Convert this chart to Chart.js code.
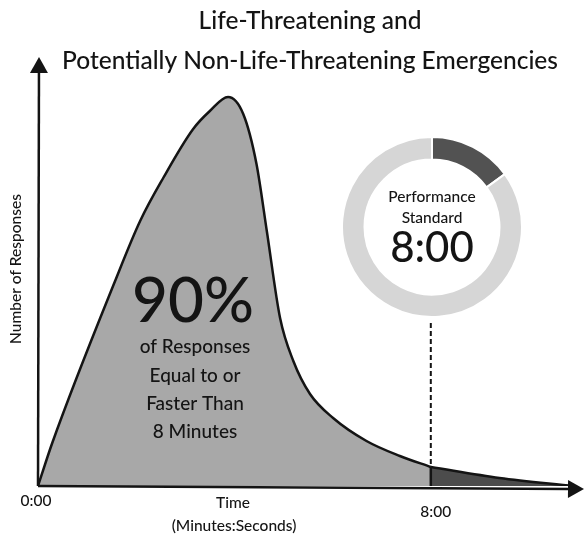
<!DOCTYPE html>
<html>
<head>
<meta charset="utf-8">
<title>Emergency response times</title>
<script src="https://cdn.jsdelivr.net/npm/chart.js@4.4.1/dist/chart.umd.min.js"></script>
<style>
  html, body { margin: 0; padding: 0; background: #fff; }
  #wrap { position: relative; width: 584px; height: 537px; }
  #main { position: absolute; left: 0; top: 0; }
  #ring { position: absolute; left: 341px; top: 136px; }
</style>
</head>
<body>
<div id="wrap">
  <canvas id="main" width="584" height="537"></canvas>
  <canvas id="ring" width="182" height="182"></canvas>
</div>
<script>
// text
const titleLines = ["Life-Threatening and", "Potentially Non-Life-Threatening Emergencies"];
const yAxisLabel = "Number of Responses";
const xAxisLabel = ["Time", "(Minutes:Seconds)"];
const xTickValues = [0, 8];
const xTickLabels = ["0:00", "8:00"];
const calloutLines = ["90%", "of Responses", "Equal to or", "Faster Than", "8 Minutes"];
const ringText = ["Performance", "Standard", "8:00"];

// response time distribution (minutes, relative number of responses)
const standardMinutes = 8;
const timeMin = [0, 0.29, 1.57, 2.08, 2.55, 3.16, 3.50, 3.87, 4.18, 4.45, 4.66, 4.93, 5.20, 5.54, 6.01, 6.69, 7.37, 8.0];
const responses = [0, 43, 205, 265, 308, 357, 375, 389, 372, 322, 255, 168, 125, 92, 68, 45, 30, 19];
const tailTime = [8.0, 9.4, 10.9];
const tailResponses = [19, 8, 0];

// performance standard ring
const ringLabels = ["Slower than 8:00", "Within 8:00"];
const ringShares = [15, 85];

const FONT = "Lato, 'Open Sans', sans-serif";
const INK = "#141414";

function arrowLine(ctx, x1, y1, x2, y2, head, half) {
  const a = Math.atan2(y2 - y1, x2 - x1);
  const bx = x2 - Math.cos(a) * head, by = y2 - Math.sin(a) * head;
  ctx.beginPath();
  ctx.moveTo(x1, y1);
  ctx.lineTo(bx, by);
  ctx.stroke();
  ctx.beginPath();
  ctx.moveTo(x2, y2);
  ctx.lineTo(bx - Math.sin(a) * half, by + Math.cos(a) * half);
  ctx.lineTo(bx + Math.sin(a) * half, by - Math.cos(a) * half);
  ctx.closePath();
  ctx.fill();
}

function text(ctx, str, x, y, size, weight) {
  ctx.font = (weight || "500") + " " + size + "px " + FONT;
  ctx.fillText(str, x, y);
}

const decorations = {
  id: "decorations",
  afterDraw(chart) {
    const ctx = chart.ctx;
    const xs = chart.scales.x, ys = chart.scales.y;
    const x0 = xs.getPixelForValue(0);
    const yBase = ys.getPixelForValue(0);
    const x8 = xs.getPixelForValue(standardMinutes);
    const y8 = ys.getPixelForValue(tailResponses[0]);

    ctx.save();
    ctx.strokeStyle = INK;
    ctx.fillStyle = INK;
    ctx.lineWidth = 2.5;

    // edge of the tail at 8:00
    ctx.beginPath();
    ctx.moveTo(x8, y8);
    ctx.lineTo(x8, yBase);
    ctx.stroke();

    // dashed line from the ring down to the curve
    ctx.lineWidth = 2;
    ctx.setLineDash([5, 3]);
    ctx.beginPath();
    ctx.moveTo(x8, 323);
    ctx.lineTo(x8, y8);
    ctx.stroke();
    ctx.setLineDash([]);

    // axes with arrow heads
    ctx.lineWidth = 2.5;
    arrowLine(ctx, x0, yBase, x0 + 1, chart.chartArea.top, 16, 9);
    arrowLine(ctx, x0, yBase, chart.width, yBase + 3, 16, 9);

    ctx.textAlign = "center";
    ctx.textBaseline = "middle";

    // title
    text(ctx, titleLines[0], 310, 21, 24.5);
    text(ctx, titleLines[1], 310, 61, 24.5);

    // y axis label
    ctx.save();
    ctx.translate(16, 269);
    ctx.rotate(-Math.PI / 2);
    text(ctx, yAxisLabel, 0, 0, 15.5);
    ctx.restore();

    // x tick labels and title
    text(ctx, xTickLabels[0], xs.getPixelForValue(xTickValues[0]) - 2, 501, 15.5);
    text(ctx, xTickLabels[1], xs.getPixelForValue(xTickValues[1]) + 5, 512, 15.5);
    text(ctx, xAxisLabel[0], 233, 503, 15.5);
    text(ctx, xAxisLabel[1], 234, 526, 15.5);

    // callout inside the curve
    text(ctx, calloutLines[0], 193, 302, 62);
    text(ctx, calloutLines[1], 195, 347, 19);
    text(ctx, calloutLines[2], 195, 376, 19);
    text(ctx, calloutLines[3], 195, 404, 19);
    text(ctx, calloutLines[4], 195, 432, 19);
    ctx.restore();
  }
};

new Chart(document.getElementById("main"), {
  type: "line",
  data: {
    datasets: [
      {
        label: "Within standard",
        data: timeMin.map((t, i) => ({ x: t, y: responses[i] })),
        borderColor: INK,
        borderWidth: 2.5,
        backgroundColor: "#a8a8a8",
        fill: "origin",
        pointRadius: 0,
        cubicInterpolationMode: "monotone"
      },
      {
        label: "Beyond standard",
        data: tailTime.map((t, i) => ({ x: t, y: tailResponses[i] })),
        borderColor: INK,
        borderWidth: 2.5,
        backgroundColor: "#4c4c4c",
        fill: "origin",
        pointRadius: 0,
        cubicInterpolationMode: "monotone"
      }
    ]
  },
  options: {
    responsive: false,
    animation: false,
    events: [],
    layout: { padding: { left: 38, right: 0, top: 57, bottom: 51 } },
    scales: {
      x: { type: "linear", min: 0, max: 11.12, display: false },
      y: { min: 0, max: 429, display: false }
    },
    plugins: { legend: { display: false }, tooltip: { enabled: false } }
  },
  plugins: [decorations]
});

const ringCenter = {
  id: "ringCenter",
  afterDraw(chart) {
    const ctx = chart.ctx;
    const cx = (chart.chartArea.left + chart.chartArea.right) / 2;
    const cy = (chart.chartArea.top + chart.chartArea.bottom) / 2;
    ctx.save();
    ctx.fillStyle = INK;
    ctx.textAlign = "center";
    ctx.textBaseline = "middle";
    text(ctx, ringText[0], cx, cy - 30, 15.5);
    text(ctx, ringText[1], cx, cy - 9, 15.5);
    text(ctx, ringText[2], cx, cy + 21, 42);
    ctx.restore();
  }
};

new Chart(document.getElementById("ring"), {
  type: "doughnut",
  data: {
    labels: ringLabels,
    datasets: [{
      data: ringShares,
      backgroundColor: ["#525252", "#d6d6d6"],
      borderColor: "#ffffff",
      borderWidth: 2,
      hoverOffset: 0
    }]
  },
  options: {
    responsive: false,
    animation: false,
    events: [],
    cutout: "75%",
    layout: { padding: 0 },
    plugins: { legend: { display: false }, tooltip: { enabled: false } }
  },
  plugins: [ringCenter]
});
</script>
</body>
</html>
